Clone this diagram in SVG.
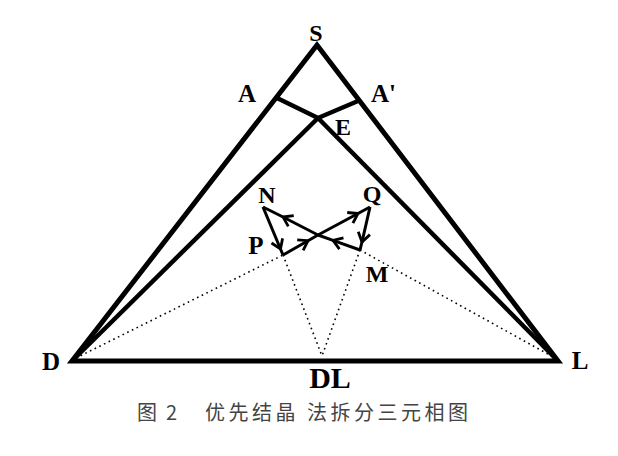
<svg xmlns="http://www.w3.org/2000/svg" width="618" height="456" viewBox="0 0 618 456">
<style>
.lbl{font-family:"Liberation Serif","Times New Roman",serif;font-weight:bold;fill:#000;}
.thick{stroke:#000;stroke-width:5;fill:none;stroke-linejoin:miter;}
.inner{stroke:#000;stroke-width:4.5;fill:none;}
.arr{stroke:#000;stroke-width:3;fill:none;marker-mid:url(#chev);}
.dot{stroke:#000;stroke-width:1.6;fill:none;stroke-dasharray:1.6 3.6;}
.cap{font-family:"Noto Sans CJK SC","Noto Sans",sans-serif;font-size:20px;fill:#444;}
</style>
<defs>
<marker id="chev" markerUnits="userSpaceOnUse" markerWidth="18" markerHeight="18" viewBox="-13 -9 18 18" refX="0" refY="0" orient="auto">
<path d="M-9,-6 L0,0 L-9,6" stroke="#000" stroke-width="2.8" fill="none"/>
</marker>
</defs>
<rect width="618" height="456" fill="#fff"/>
<g id="connectors">
<polygon class="thick" points="317,45 72,361 558,361"/>
<line class="inner" x1="318" y1="118" x2="72" y2="361"/>
<line class="inner" x1="318" y1="118" x2="558" y2="361"/>
<line class="inner" x1="277" y1="98" x2="318" y2="118"/>
<line class="inner" x1="358" y1="101" x2="318" y2="118"/>
<path class="arr" d="M318,235 L283,217 L263,207"/>
<path class="arr" d="M263,207 L280.5,249 L283,255"/>
<path class="arr" d="M283,255 L308,240.7 L318,235"/>
<path class="arr" d="M318,235 L358,213.5 L370,207"/>
<path class="arr" d="M370,207 L362,242 L360,250"/>
<path class="arr" d="M360,250 L333,240.4 L318,235"/>
<line class="dot" x1="76" y1="358" x2="283" y2="255"/>
<line class="dot" x1="283" y1="255" x2="322" y2="356"/>
<line class="dot" x1="360" y1="250" x2="322" y2="356"/>
<line class="dot" x1="360" y1="250" x2="555" y2="358"/>
</g>
<g id="S"><text class="lbl" x="316" y="41" font-size="24" text-anchor="middle">S</text></g>
<g id="A"><text class="lbl" x="247" y="102" font-size="25" text-anchor="middle">A</text></g>
<g id="A2"><text class="lbl" x="371" y="102" font-size="25">A'</text></g>
<g id="E"><text class="lbl" x="343" y="135" font-size="24" text-anchor="middle">E</text></g>
<g id="N"><text class="lbl" x="267" y="203" font-size="24" text-anchor="middle">N</text></g>
<g id="Q"><text class="lbl" x="372" y="202" font-size="24" text-anchor="middle">Q</text></g>
<g id="P"><text class="lbl" x="256" y="254" font-size="25" text-anchor="middle">P</text></g>
<g id="M"><text class="lbl" x="377" y="282" font-size="24" text-anchor="middle">M</text></g>
<g id="D"><text class="lbl" x="51" y="370" font-size="25" text-anchor="middle">D</text></g>
<g id="L"><text class="lbl" x="580" y="369" font-size="25" text-anchor="middle">L</text></g>
<g id="DL"><text class="lbl" x="330" y="388" font-size="30" text-anchor="middle">DL</text></g>
<g id="caption">
<text class="cap" x="137" y="420">图</text>
<text class="cap" x="166" y="420">2</text>
<text class="cap" x="205" y="420" letter-spacing="3.5">优先结晶 法拆分三元相图</text>
</g>
</svg>
